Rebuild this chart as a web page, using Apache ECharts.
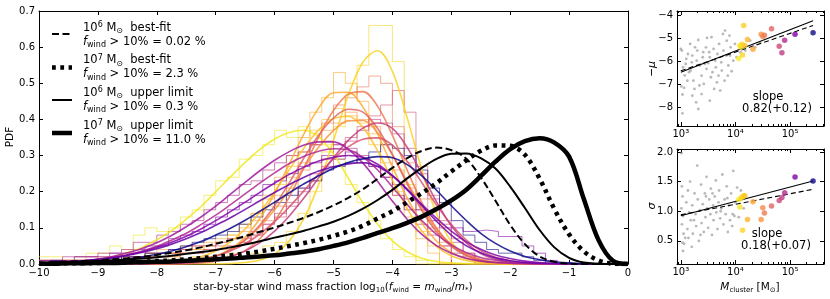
<!DOCTYPE html>
<html><head><meta charset="utf-8">
<script src="https://cdn.jsdelivr.net/npm/echarts@6/dist/echarts.min.js"></script>
<style>html,body{margin:0;padding:0;background:#fff}#c{width:830px;height:299px}</style>
</head><body><div id="c"></div>
<script>
const F = 'DejaVu Sans';
// ---------- main panel: bins and fit grid ----------
const binEdges = [-10,-9.8,-9.6,-9.4,-9.2,-9,-8.8,-8.6,-8.4,-8.2,-8,-7.8,-7.6,-7.4,-7.2,-7,-6.8,-6.6,-6.4,-6.2,-6,-5.8,-5.6,-5.4,-5.2,-5,-4.8,-4.6,-4.4,-4.2,-4,-3.8,-3.6,-3.4,-3.2,-3,-2.8,-2.6,-2.4,-2.2,-2,-1.8,-1.6,-1.4,-1.2,-1,-0.8,-0.6,-0.4,-0.2,0];
const fitX = [-10,-9.75,-9.5,-9.25,-9,-8.75,-8.5,-8.25,-8,-7.75,-7.5,-7.25,-7,-6.75,-6.5,-6.25,-6,-5.75,-5.5,-5.25,-5,-4.75,-4.5,-4.25,-4,-3.75,-3.5,-3.25,-3,-2.75,-2.5,-2.25,-2,-1.75,-1.5,-1.25,-1,-0.75,-0.5,-0.25,0];

// histograms of individual clusters (PDF per 0.2 dex bin)
const hist1 = [0.01,0,0,0.01,0,0.01,0,0.01,0.02,0.01, 0.01,0.02,0.01,0.02,0.02,0.01,0.03,0.02,0.03,0.05, 0.06,0.09,0.14,0.20,0.31,0.38,0.47,0.55,0.66,0.66, 0.56,0.22,0,0,0,0,0,0,0,0, 0,0,0,0,0,0,0,0,0,0];
const hist2 = [0.02,0.02,0.01,0.02,0.03,0.03,0.05,0.04,0.08,0.10, 0.09,0.10,0.13,0.15,0.19,0.23,0.24,0.29,0.30,0.33, 0.37,0.35,0.38,0.36,0.33,0.29,0.22,0.17,0.12,0.07, 0.04,0.02,0.01,0,0,0,0,0,0,0, 0,0,0,0,0,0,0,0,0,0];
const hist3 = [0.01,0,0.01,0.01,0.01,0.02,0.01,0.02,0.02,0.03, 0.02,0.03,0.03,0.04,0.05,0.06,0.08,0.11,0.14,0.19, 0.22,0.27,0.31,0.37,0.40,0.43,0.41,0.39,0.33,0.26, 0.19,0.15,0.09,0.05,0,0,0,0,0,0, 0,0,0,0,0,0,0,0,0,0];
const hist4 = [0.01,0.01,0,0.01,0.02,0.01,0.02,0.03,0.02,0.03, 0.04,0.03,0.05,0.04,0.06,0.07,0.08,0.10,0.14,0.18, 0.24,0.30,0.35,0.42,0.46,0.53,0.50,0.45,0.36,0.28, 0.20,0.13,0.07,0.03,0,0,0,0,0,0, 0,0,0,0,0,0,0,0,0,0];
const hist5 = [0,0.01,0.01,0,0.01,0.01,0.02,0.01,0.02,0.02, 0.03,0.03,0.04,0.05,0.05,0.06,0.07,0.09,0.12,0.16, 0.19,0.24,0.28,0.33,0.37,0.39,0.42,0.40,0.38,0.33, 0.26,0.21,0.15,0.09,0.06,0,0,0,0,0, 0,0,0,0,0,0,0,0,0,0];
const hist6 = [0.01,0,0.01,0.01,0,0.01,0.01,0.02,0.01,0.02, 0.02,0.02,0.03,0.03,0.04,0.04,0.05,0.06,0.08,0.12, 0.16,0.21,0.26,0.33,0.39,0.44,0.46,0.49,0.52,0.50, 0.38,0.28,0.18,0.10,0.05,0,0,0,0,0, 0,0,0,0,0,0,0,0,0,0];
const hist8 = [0,0.01,0,0.01,0.01,0.01,0.02,0.01,0.02,0.02, 0.02,0.03,0.03,0.03,0.04,0.05,0.05,0.06,0.08,0.11, 0.13,0.17,0.21,0.25,0.29,0.33,0.35,0.38,0.41,0.44, 0.48,0.42,0.27,0.19,0.12,0.07,0.03,0,0,0, 0,0,0,0,0,0,0,0,0,0];
const hist9 = [0,0,0.01,0.01,0.01,0.01,0.02,0.02,0.02,0.03, 0.03,0.04,0.04,0.05,0.05,0.06,0.07,0.07,0.09,0.11, 0.14,0.16,0.20,0.23,0.27,0.30,0.34,0.37,0.40,0.39, 0.36,0.32,0.25,0.18,0.11,0.06,0.03,0.01,0,0, 0,0,0,0,0,0,0,0,0,0];
const hist10 = [0.01,0.01,0.02,0.02,0.02,0.03,0.03,0.04,0.06,0.06, 0.08,0.09,0.11,0.12,0.15,0.17,0.19,0.22,0.23,0.26, 0.28,0.30,0.31,0.33,0.34,0.33,0.32,0.30,0.27,0.24, 0.19,0.15,0.11,0.08,0.05,0.03,0.02,0,0,0, 0,0,0,0,0,0,0,0,0,0];
const hist12 = [0.01,0.01,0.01,0.02,0.02,0.02,0.03,0.03,0.04,0.05, 0.05,0.07,0.08,0.09,0.11,0.13,0.15,0.17,0.19,0.22, 0.23,0.25,0.27,0.28,0.30,0.29,0.31,0.28,0.27,0.24, 0.22,0.18,0.15,0.12,0.10,0.10,0.09,0.094,0.09,0.076, 0.076,0.05,0.03,0.01,0,0,0,0,0,0];
const hist14 = [0,0.01,0,0.01,0.01,0.01,0.01,0.02,0.02,0.03, 0.03,0.04,0.05,0.06,0.07,0.08,0.09,0.11,0.13,0.15, 0.17,0.19,0.21,0.23,0.26,0.27,0.28,0.29,0.31,0.33, 0.32,0.30,0.26,0.21,0.17,0.12,0.08,0.06,0.04,0.03, 0.03,0.02,0.01,0,0,0,0,0,0,0];

// fitted curves of individual clusters, sampled on fitX
const fit1 = [0,0,0,0,0,0,0,0,0,0,0,0,0,0.001,0.004,0.011,0.028,0.064,0.126,0.221,0.342,0.466,0.559,0.59,0.533,0.405,0.26,0.139,0.062,0.024,0.008,0.002,0,0,0,0,0,0,0,0,0];
const fit2 = [0.002,0.003,0.005,0.008,0.013,0.020,0.031,0.046,0.067,0.092,0.124,0.159,0.200,0.241,0.281,0.317,0.346,0.364,0.37,0.352,0.304,0.238,0.169,0.110,0.064,0.034,0.016,0.007,0.003,0.001,0,0,0,0,0,0,0,0,0,0,0];
const fit3 = [0,0,0,0,0,0,0,0.001,0.002,0.005,0.011,0.020,0.036,0.061,0.097,0.143,0.200,0.261,0.321,0.371,0.402,0.409,0.378,0.313,0.232,0.154,0.091,0.048,0.023,0.010,0.004,0.001,0,0,0,0,0,0,0,0,0];
const fit4 = [0,0,0,0,0,0,0,0,0.001,0.001,0.004,0.009,0.020,0.041,0.074,0.126,0.195,0.277,0.361,0.432,0.474,0.475,0.434,0.359,0.269,0.183,0.113,0.063,0.032,0.015,0.006,0.002,0.001,0,0,0,0,0,0,0,0];
const fit5 = [0,0,0,0,0,0,0,0.001,0.001,0.003,0.006,0.012,0.022,0.040,0.066,0.103,0.150,0.206,0.267,0.324,0.369,0.396,0.397,0.363,0.302,0.228,0.155,0.096,0.054,0.028,0.013,0.005,0.002,0.001,0,0,0,0,0,0,0];
const fit6 = [0,0,0,0,0,0,0,0,0,0,0.001,0.003,0.008,0.019,0.037,0.070,0.119,0.186,0.267,0.352,0.425,0.470,0.477,0.436,0.356,0.260,0.170,0.099,0.052,0.024,0.010,0.004,0.001,0,0,0,0,0,0,0,0];
const fit7 = [0,0,0,0,0,0,0,0,0.001,0.002,0.005,0.011,0.021,0.039,0.067,0.108,0.161,0.225,0.294,0.357,0.404,0.428,0.420,0.375,0.303,0.222,0.148,0.089,0.048,0.024,0.011,0.004,0.002,0,0,0,0,0,0,0,0];
const fit8 = [0,0,0,0,0,0,0,0.001,0.002,0.004,0.007,0.013,0.022,0.036,0.056,0.083,0.117,0.158,0.203,0.249,0.291,0.324,0.345,0.349,0.329,0.284,0.225,0.163,0.109,0.067,0.037,0.019,0.009,0.004,0.002,0.001,0,0,0,0,0];
const fit9 = [0,0,0,0,0,0,0,0,0.001,0.001,0.003,0.006,0.011,0.021,0.036,0.059,0.091,0.133,0.183,0.239,0.294,0.342,0.376,0.390,0.375,0.323,0.249,0.172,0.106,0.059,0.029,0.013,0.005,0.002,0.001,0,0,0,0,0,0];
const fit10 = [0.002,0.003,0.005,0.008,0.012,0.018,0.025,0.036,0.049,0.066,0.085,0.109,0.135,0.164,0.194,0.224,0.252,0.278,0.298,0.312,0.319,0.316,0.295,0.260,0.213,0.165,0.120,0.082,0.053,0.032,0.018,0.010,0.005,0.002,0.001,0,0,0,0,0,0];
const fit11 = [0.002,0.004,0.006,0.009,0.014,0.021,0.031,0.043,0.059,0.079,0.103,0.130,0.160,0.193,0.226,0.258,0.287,0.311,0.329,0.338,0.338,0.318,0.279,0.228,0.174,0.124,0.082,0.051,0.030,0.016,0.008,0.004,0.002,0.001,0,0,0,0,0,0,0];
const fit12 = [0.002,0.004,0.006,0.008,0.012,0.018,0.025,0.034,0.046,0.060,0.077,0.097,0.120,0.145,0.171,0.198,0.224,0.248,0.268,0.285,0.295,0.300,0.295,0.276,0.245,0.207,0.165,0.126,0.091,0.062,0.041,0.025,0.015,0.008,0.004,0.002,0.001,0,0,0,0];
const fit13 = [0.003,0.004,0.006,0.009,0.012,0.017,0.024,0.032,0.042,0.055,0.070,0.087,0.107,0.128,0.151,0.175,0.198,0.220,0.240,0.257,0.269,0.277,0.280,0.270,0.244,0.205,0.161,0.118,0.080,0.051,0.031,0.017,0.009,0.004,0.002,0.001,0,0,0,0,0];
const fit14 = [0.001,0.002,0.003,0.004,0.006,0.010,0.014,0.019,0.027,0.036,0.048,0.062,0.080,0.099,0.121,0.146,0.171,0.197,0.222,0.244,0.265,0.281,0.291,0.297,0.294,0.275,0.244,0.204,0.161,0.121,0.085,0.057,0.036,0.021,0.012,0.006,0.003,0.001,0,0,0];

// model curves (black)
const bestFit1e6 = [0.004,0.005,0.007,0.008,0.010,0.013,0.016,0.020,0.025,0.031,0.038,0.046,0.056,0.066,0.077,0.089,0.101,0.114,0.128,0.144,0.162,0.183,0.207,0.236,0.266,0.293,0.313,0.322,0.315,0.292,0.240,0.175,0.108,0.055,0.021,0.006,0.001,0,0,0,0];
const bestFit1e7 = [0.001,0.001,0.002,0.002,0.003,0.004,0.005,0.006,0.008,0.010,0.013,0.016,0.020,0.024,0.029,0.035,0.042,0.050,0.058,0.067,0.078,0.090,0.106,0.126,0.146,0.171,0.196,0.224,0.256,0.286,0.313,0.328,0.327,0.302,0.236,0.152,0.082,0.035,0.010,0.001,0];
const upper1e6 = [0.003,0.004,0.005,0.007,0.008,0.010,0.012,0.015,0.019,0.023,0.028,0.033,0.039,0.046,0.054,0.063,0.073,0.082,0.092,0.104,0.117,0.133,0.153,0.177,0.205,0.237,0.266,0.291,0.305,0.306,0.293,0.264,0.214,0.155,0.094,0.046,0.017,0.004,0.001,0,0];
const upper1e7 = [0.001,0.001,0.002,0.002,0.003,0.003,0.004,0.005,0.006,0.007,0.009,0.011,0.013,0.015,0.018,0.021,0.024,0.029,0.034,0.041,0.050,0.060,0.072,0.086,0.099,0.114,0.131,0.152,0.176,0.205,0.243,0.283,0.318,0.340,0.348,0.336,0.297,0.180,0.066,0.008,0];

// ---------- right panels ----------
const clusterLogM = [4.06,4.08,4.10,4.12,4.13,4.15,4.17,4.22,4.32,4.47,4.50,4.53,4.66,4.80,4.85,4.90,5.09,5.42];
const clusterNegMu = [-5.86,-5.30,-5.38,-5.25,-5.71,-4.43,-5.30,-5.04,-5.46,-4.81,-4.91,-4.85,-4.57,-5.33,-5.61,-5.07,-4.81,-4.75];
const clusterSigma = [1.20,1.07,1.22,1.24,0.68,1.26,1.26,0.86,1.16,0.86,1.06,0.97,1.09,1.18,1.23,1.31,1.577,1.51];
const clusterColor = ['#f3ee27','#f6e626','#f8df25','#f9d924','#fbd324','#fccd25','#fdc627','#fdb42f','#fca636','#f89540','#f48849','#ed7953','#e16462','#cc4778','#c13b82','#b12a90','#7e03a8','#0d0887'];

const grayTopLogM = [3.0,3.02,3.04,3.01,3.06,3.03,3.03,3.07,3.1,3.13,3.17,3.2,3.18,3.23,3.25,3.28,3.3,3.32,3.35,3.38,3.4,3.42,3.46,3.47,3.5,3.53,3.55,3.56,3.6,3.61,3.64,3.67,3.69,3.7,3.74,3.75,3.77,3.78,3.8,3.83,3.84,3.87,3.89,3.91,3.93,3.96,3.99,3.53,3.32,3.12,3.15,3.09,3.26,3.41,3.48,3.58,3.66,3.72,3.81,3.86,3.9,4.02,4.09,4.18,4.27,4.36,4.45,3.21,3.29,3.44,3.52,3.63,3.34,3.21,3.38];
const grayTopNegMu = [-5.45,-5.52,-6.25,-7.08,-7.14,-7.43,-8.25,-6.6,-5.88,-5.67,-5.23,-6.03,-6.39,-6.83,-7.19,-7.77,-5.52,-5.06,-6.17,-6.61,-5.81,-6.97,-5.38,-6.32,-6.07,-5.81,-6.68,-4.94,-5.45,-7.19,-6.25,-5.67,-6.61,-5.23,-6.03,-6.39,-4.8,-5.52,-6.83,-5.74,-5.09,-6.17,-4.87,-5.38,-6.42,-5.96,-5.23,-7.7,-8.06,-6.83,-6.46,-6.1,-5.38,-5.59,-4.97,-6.46,-6.9,-7.26,-4.65,-6.61,-5.74,-5.81,-5.59,-5.52,-5.09,-5.38,-5.16,-5.74,-5.96,-6.1,-5.59,-5.96,-7.04,-7.48,-7.41];
const grayBotLogM = [3.01,3.02,3.03,3.01,3.04,3.02,3.05,3.03,3.06,3.04,3.08,3.1,3.12,3.13,3.15,3.17,3.18,3.2,3.21,3.22,3.25,3.27,3.28,3.3,3.31,3.33,3.35,3.37,3.38,3.4,3.42,3.44,3.45,3.47,3.48,3.5,3.52,3.54,3.55,3.57,3.59,3.6,3.62,3.64,3.65,3.67,3.69,3.7,3.72,3.74,3.76,3.78,3.8,3.82,3.84,3.86,3.88,3.9,3.92,3.94,3.96,3.98,4.0,4.03,4.06,4.1,4.15,3.14,3.24,3.36,3.46,3.58,3.73,3.85,3.95];
const grayBotSigma = [1.98,1.42,1.25,1.05,0.92,0.78,0.62,0.47,0.45,0.33,0.55,1.15,0.7,1.35,0.98,1.5,0.85,0.4,1.1,0.62,1.3,0.95,0.75,1.77,1.2,0.5,1.02,1.45,0.8,1.12,0.65,1.3,0.9,1.58,1.05,0.72,1.2,0.95,1.38,0.6,1.1,0.85,1.25,1.52,0.98,0.7,1.15,1.35,0.88,1.05,1.62,0.78,1.2,0.95,1.42,0.65,1.1,0.85,1.3,0.75,1.68,0.92,1.15,1.4,0.9,1.35,1.05,0.55,0.85,0.6,1.25,1.3,1.0,1.22,0.95];

const fitLineLogM = [3.0, 5.42];
const muFitAll = [-6.46, -4.22];
const muFitColored = [-6.40, -4.43];
const sigFitAll = [0.925, 1.51];
const sigFitColored = [0.94, 1.37];

const decadeTicks = [3, 4, 5];
const minorTicks = [2.954,3.301,3.477,3.602,3.699,3.778,3.845,3.903,3.954,4.301,4.477,4.602,4.699,4.778,4.845,4.903,4.954,5.301,5.477,5.602];
const muTicks = [-8, -7, -6, -5, -4];
const sigTicks = [0.5, 1.0, 1.5, 2.0];

// ---------- build ----------
const histSet = [
  [hist1,'#f9d423'],[hist2,'#f0e825'],[hist3,'#fdc228'],[hist4,'#fcaa33'],[hist5,'#f89540'],[hist6,'#ed7953'],
  [hist8,'#d5536f'],[hist9,'#c43e7f'],[hist10,'#b12a90'],[hist12,'#8606a6'],[hist14,'#0d0887']
];
const fitSet = [
  [fit1,'#f9d423'],[fit2,'#f0e825'],[fit3,'#fdc228'],[fit4,'#fcaa33'],[fit5,'#f89540'],[fit6,'#ed7953'],[fit7,'#e16462'],
  [fit8,'#d5536f'],[fit9,'#c43e7f'],[fit10,'#b12a90'],[fit11,'#a01a9c'],[fit12,'#8606a6'],[fit13,'#6a00a8'],[fit14,'#0d0887']
];
function stepData(h){ const d = h.map((v,i)=>[binEdges[i], v]); d.push([binEdges[h.length], h[h.length-1]]); return d; }
function curveData(y){ return y.map((v,i)=>[fitX[i], v]); }
const minus = v => (v < 0 ? '\u2212' + Math.abs(v) : String(v));
const sup = {3:'\u00b3',4:'\u2074',5:'\u2075'};

const series = [];
histSet.forEach(([h,c]) => series.push({type:'line', xAxisIndex:0, yAxisIndex:0, data:stepData(h), step:'end', showSymbol:false, silent:true, z:2,
  lineStyle:{color:c, width:1, opacity:0.6}}));
fitSet.forEach(([y,c]) => series.push({type:'line', xAxisIndex:0, yAxisIndex:0, data:curveData(y), smooth:0.35, showSymbol:false, silent:true, z:3,
  lineStyle:{color:c, width:1.6, opacity:0.85}}));
const blackDefs = [
  [bestFit1e6, 2, [7,3.5]], [bestFit1e7, 4.5, [3.8,4.5]], [upper1e6, 2, 'solid'], [upper1e7, 4.5, 'solid']
];
blackDefs.forEach(([y,w,t]) => series.push({type:'line', xAxisIndex:0, yAxisIndex:0, data:curveData(y), smooth:0.35, showSymbol:false, silent:true, z:4,
  lineStyle:{color:'#000', width:w, type:t, cap:'butt'}}));

// right panels
series.push({type:'scatter', xAxisIndex:2, yAxisIndex:2, data:grayTopLogM.map((x,i)=>[x, grayTopNegMu[i]]), symbolSize:2.8, itemStyle:{color:'#8a8a8a', opacity:0.6}, z:2});
series.push({type:'line', xAxisIndex:2, yAxisIndex:2, data:fitLineLogM.map((x,i)=>[x, muFitAll[i]]), showSymbol:false, lineStyle:{color:'#000', width:1.1}, z:3});
series.push({type:'line', xAxisIndex:2, yAxisIndex:2, data:fitLineLogM.map((x,i)=>[x, muFitColored[i]]), showSymbol:false, lineStyle:{color:'#000', width:1.1, type:[5,3]}, z:3});
series.push({type:'scatter', xAxisIndex:2, yAxisIndex:2, data:clusterLogM.map((x,i)=>({value:[x, clusterNegMu[i]], itemStyle:{color:clusterColor[i]}})), symbolSize:5.5, z:4});
series.push({type:'scatter', xAxisIndex:6, yAxisIndex:4, data:grayBotLogM.map((x,i)=>[x, grayBotSigma[i]]), symbolSize:2.8, itemStyle:{color:'#8a8a8a', opacity:0.6}, z:2});
series.push({type:'line', xAxisIndex:6, yAxisIndex:4, data:fitLineLogM.map((x,i)=>[x, sigFitAll[i]]), showSymbol:false, lineStyle:{color:'#000', width:1.1}, z:3});
series.push({type:'line', xAxisIndex:6, yAxisIndex:4, data:fitLineLogM.map((x,i)=>[x, sigFitColored[i]]), showSymbol:false, lineStyle:{color:'#000', width:1.1, type:[5,3]}, z:3});
series.push({type:'scatter', xAxisIndex:6, yAxisIndex:4, data:clusterLogM.map((x,i)=>({value:[x, clusterSigma[i]], itemStyle:{color:clusterColor[i]}})), symbolSize:5.5, z:4});

const AL = {show:true, onZero:false, lineStyle:{color:'#000', width:1}};
function ax(o){
  return Object.assign({type:'value', splitLine:{show:false}, axisLine:AL}, o);
}
const lbl = (extra) => Object.assign({show:true, color:'#000', fontSize:10, fontFamily:F}, extra);
const tick = (extra) => Object.assign({show:true, inside:true, length:4, lineStyle:{color:'#000', width:1}}, extra);
const noLbl = {show:false};

const xAxis = [
  ax({gridIndex:0, position:'bottom', min:-10, max:0, interval:1, axisTick:tick({}), axisLabel:lbl({margin:4, formatter:minus})}),
  ax({gridIndex:0, position:'top', min:-10, max:0, interval:1, axisTick:tick({}), axisLabel:noLbl}),
  ax({gridIndex:1, position:'bottom', min:2.93, max:5.62, axisTick:tick({customValues:decadeTicks}), axisLabel:lbl({margin:3, customValues:decadeTicks, formatter:v=>'10'+sup[Math.round(v)]})}),
  ax({gridIndex:1, position:'top', min:2.93, max:5.62, axisTick:tick({customValues:decadeTicks}), axisLabel:noLbl}),
  ax({gridIndex:1, position:'bottom', min:2.93, max:5.62, axisLine:{show:false,onZero:false}, axisTick:tick({length:2, customValues:minorTicks}), axisLabel:noLbl}),
  ax({gridIndex:1, position:'top', min:2.93, max:5.62, axisLine:{show:false,onZero:false}, axisTick:tick({length:2, customValues:minorTicks}), axisLabel:noLbl}),
  ax({gridIndex:2, position:'bottom', min:2.93, max:5.62, axisTick:tick({customValues:decadeTicks}), axisLabel:lbl({margin:3, customValues:decadeTicks, formatter:v=>'10'+sup[Math.round(v)]})}),
  ax({gridIndex:2, position:'top', min:2.93, max:5.62, axisTick:tick({customValues:decadeTicks}), axisLabel:noLbl}),
  ax({gridIndex:2, position:'bottom', min:2.93, max:5.62, axisLine:{show:false,onZero:false}, axisTick:tick({length:2, customValues:minorTicks}), axisLabel:noLbl}),
  ax({gridIndex:2, position:'top', min:2.93, max:5.62, axisLine:{show:false,onZero:false}, axisTick:tick({length:2, customValues:minorTicks}), axisLabel:noLbl})
];
const yAxis = [
  ax({gridIndex:0, position:'left', min:0, max:0.7, interval:0.1, axisTick:tick({}), axisLabel:lbl({margin:4, formatter:v=>v.toFixed(1)})}),
  ax({gridIndex:0, position:'right', min:0, max:0.7, interval:0.1, axisTick:tick({}), axisLabel:noLbl}),
  ax({gridIndex:1, position:'left', min:-8.8, max:-3.8, axisTick:tick({customValues:muTicks}), axisLabel:lbl({margin:4, customValues:muTicks, formatter:v=>minus(Math.round(v))})}),
  ax({gridIndex:1, position:'right', min:-8.8, max:-3.8, axisTick:tick({customValues:muTicks}), axisLabel:noLbl}),
  ax({gridIndex:2, position:'left', min:0.11, max:2.05, axisTick:tick({customValues:sigTicks}), axisLabel:lbl({margin:4, customValues:sigTicks, formatter:v=>v.toFixed(1)})}),
  ax({gridIndex:2, position:'right', min:0.11, max:2.05, axisTick:tick({customValues:sigTicks}), axisLabel:noLbl})
];

// ---------- text (legend, titles) ----------
function rich(fs){
  return {
    n:{fontSize:fs, fontFamily:F, lineHeight:14, fill:'#000'},
    i:{fontSize:fs, fontFamily:F, fontStyle:'italic', lineHeight:14, fill:'#000'},
    s:{fontSize:Math.round(fs*0.7), fontFamily:F, lineHeight:6, verticalAlign:'bottom', fill:'#000'},
    p:{fontSize:Math.round(fs*0.7), fontFamily:F, lineHeight:6, verticalAlign:'top', fill:'#000'}
  };
}
function T(x, y, text, fs, align, rot){
  return {type:'text', x, y, rotation:rot||0, silent:true, z:100,
    style:{text, fontSize:fs, fontFamily:F, fill:'#000', align:align||'center', verticalAlign:'middle', lineHeight:14, rich:rich(fs)}};
}
function L(y, w, dash){
  return {type:'line', silent:true, z:100, shape:{x1:52, y1:y, x2:72, y2:y}, style:{stroke:'#000', lineWidth:w, lineDash:dash||null, lineCap:'butt'}};
}
const legendLabels = [
  '{n|10}{p|6}{n| M}{s|\u2299}{n|  best-fit}\n{i|f}{s|wind}{n| > 10% = 0.02 %}',
  '{n|10}{p|7}{n| M}{s|\u2299}{n|  best-fit}\n{i|f}{s|wind}{n| > 10% = 2.3 %}',
  '{n|10}{p|6}{n| M}{s|\u2299}{n|  upper limit}\n{i|f}{s|wind}{n| > 10% = 0.3 %}',
  '{n|10}{p|7}{n| M}{s|\u2299}{n|  upper limit}\n{i|f}{s|wind}{n| > 10% = 11.0 %}'
];
const legendY = [35, 67.5, 100, 133];
const graphic = [
  L(34, 2, [7,3.5]), L(67.5, 4.5, [3.8,4.5]), L(100, 2), L(133, 4.5),
  ...legendLabels.map((t,i)=>T(83, legendY[i], t, 11.5, 'left')),
  T(333, 287, '{n|star-by-star wind mass fraction log}{s|10}{n|(}{i|f}{s|wind}{n| = }{i|m}{s|wind}{n|/}{i|m}{s|*}{n|)}', 10.5),
  T(10, 137, '{n|PDF}', 10.5, 'center', Math.PI/2),
  T(652, 69, '{n|\u2212}{i|\u03bc}', 11, 'center', Math.PI/2),
  T(652, 206, '{i|\u03c3}', 11, 'center', Math.PI/2),
  T(750, 287, '{i|M}{s|cluster}{n| [M}{s|\u2299}{n|]}', 10.5),
  T(768, 97, '{n|slope}', 11.5), T(777, 109, '{n|0.82(+0.12)}', 11.5),
  T(767, 234, '{n|slope}', 11.5), T(776, 246, '{n|0.18(+0.07)}', 11.5)
];

const chart = echarts.init(document.getElementById('c'), null, {renderer:'canvas'});
chart.setOption({
  animation:false, backgroundColor:'#fff', textStyle:{fontFamily:F},
  grid:[{left:39, top:11, width:589, height:253},{left:677, top:11, width:147, height:115},{left:677, top:149, width:147, height:115}],
  xAxis, yAxis, series, graphic
});
</script></body></html>
